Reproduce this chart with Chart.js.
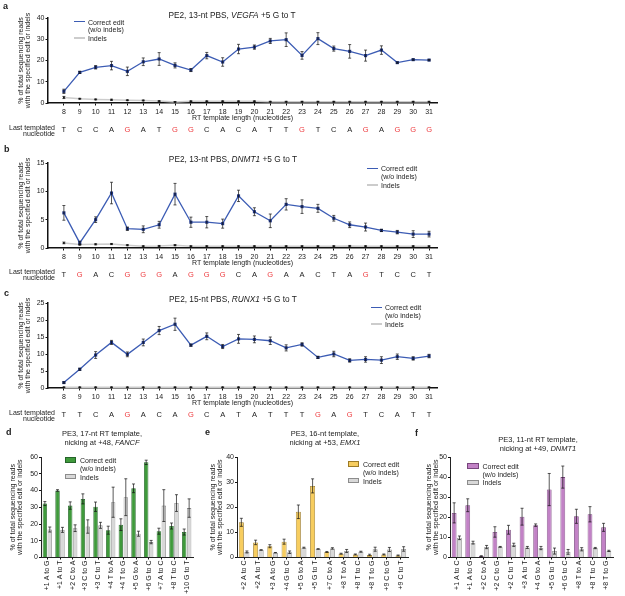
<!DOCTYPE html>
<html>
<head>
<meta charset="utf-8">
<title>RT template length and PE3 edits</title>
<script src="https://cdn.jsdelivr.net/npm/chart.js@4.4.1/dist/chart.umd.min.js"></script>
<style>
    html, body { margin: 0; padding: 0; background: #fff; }
    #fig { position: relative; width: 625px; height: 596px; overflow: hidden; font-family: 'Liberation Sans', Arial, sans-serif; color: #222; }
    #fig canvas { position: absolute; }
    .t { position: absolute; white-space: nowrap; line-height: 1; }
    .sw { position: absolute; box-sizing: border-box; }
</style>
</head>
<body>
<div id="fig">
    <canvas id="chartA" width="445" height="140" style="left:0;top:0"></canvas>
    <canvas id="chartB" width="445" height="140" style="left:0;top:145px"></canvas>
    <canvas id="chartC" width="445" height="140" style="left:0;top:285px"></canvas>
    <canvas id="chartD" width="200" height="171" style="left:0;top:425px"></canvas>
    <canvas id="chartE" width="210" height="171" style="left:205px;top:425px"></canvas>
    <canvas id="chartF" width="210" height="171" style="left:415px;top:425px"></canvas>
</div>
<script>
const FONT = "'Liberation Sans', Arial, sans-serif"

Chart.defaults.animation = false
Chart.defaults.responsive = false
Chart.defaults.font.family = FONT
Chart.defaults.color = '#222'
Chart.defaults.plugins.legend.display = false
Chart.defaults.plugins.tooltip.enabled = false

// RT template length (x axis of a, b, c)
const rtLengths = [8, 9, 10, 11, 12, 13, 14, 15, 16, 17, 18, 19, 20, 21, 22, 23, 24, 25, 26, 27, 28, 29, 30, 31]

// Last templated nucleotide per RT template length
const vegfaNucleotides = ['T', 'C', 'C', 'A', 'G', 'A', 'T', 'G', 'G', 'C', 'A', 'C', 'A', 'T', 'T', 'G', 'T', 'C', 'A', 'G', 'A', 'G', 'G', 'G']
const dnmt1Nucleotides = ['T', 'G', 'A', 'C', 'G', 'G', 'G', 'A', 'G', 'G', 'G', 'C', 'A', 'G', 'A', 'A', 'C', 'T', 'A', 'G', 'T', 'C', 'C', 'T']
const runx1Nucleotides = ['T', 'T', 'C', 'A', 'G', 'A', 'C', 'A', 'G', 'C', 'A', 'T', 'A', 'T', 'T', 'T', 'G', 'A', 'G', 'T', 'C', 'A', 'T', 'T']

// a: PE2, 13-nt PBS, VEGFA +5 G to T
const vegfaCorrect = [5.5, 14.4, 16.8, 17.6, 14.9, 19.4, 20.7, 17.7, 15.5, 22.3, 19.3, 25.4, 26.3, 29.2, 29.8, 22.4, 30.3, 25.6, 24.3, 22.3, 24.9, 19.0, 20.4, 20.2]
const vegfaCorrectSd = [1.0, 0.5, 0.8, 2.0, 2.0, 1.8, 3.0, 1.2, 0.7, 1.5, 2.0, 2.2, 1.0, 1.2, 3.2, 1.8, 2.8, 1.2, 3.2, 2.6, 2.0, 0.3, 0.3, 0.3]
const vegfaIndels = [2.6, 2.0, 1.7, 1.5, 1.3, 1.2, 0.9, 0.5, 0.8, 0.8, 0.8, 0.8, 0.8, 0.6, 0.6, 0.6, 0.6, 0.6, 0.6, 0.6, 0.6, 0.6, 0.6, 0.6]
const vegfaIndelsSd = [0.5, 0.2, 0.2, 0.3, 0.2, 0.2, 0.2, 0.2, 0.2, 0.2, 0.2, 0.2, 0.2, 0.2, 0.2, 0.2, 0.2, 0.2, 0.2, 0.2, 0.2, 0.2, 0.2, 0.2]

// b: PE2, 13-nt PBS, DNMT1 +5 G to T
const dnmt1Correct = [6.2, 0.9, 5.0, 9.7, 3.4, 3.3, 4.1, 9.5, 4.55, 4.55, 4.3, 9.2, 6.4, 4.8, 7.7, 7.3, 7.0, 5.25, 4.1, 3.7, 3.1, 2.8, 2.45, 2.45]
const dnmt1CorrectSd = [1.3, 0.3, 0.5, 1.9, 0.3, 0.6, 0.6, 1.9, 0.9, 1.0, 0.8, 1.0, 0.7, 1.2, 1.0, 1.2, 0.7, 0.5, 0.5, 0.7, 0.2, 0.3, 0.6, 0.5]
const dnmt1Indels = [0.9, 0.6, 0.65, 0.7, 0.5, 0.3, 0.35, 0.5, 0.3, 0.3, 0.3, 0.3, 0.3, 0.3, 0.3, 0.3, 0.3, 0.3, 0.35, 0.3, 0.3, 0.3, 0.3, 0.3]
const dnmt1IndelsSd = [0.15, 0.1, 0.1, 0.1, 0.1, 0.1, 0.1, 0.1, 0.1, 0.1, 0.1, 0.1, 0.1, 0.1, 0.1, 0.1, 0.1, 0.1, 0.1, 0.1, 0.1, 0.1, 0.1, 0.1]

// c: PE2, 15-nt PBS, RUNX1 +5 G to T
const runx1Correct = [1.6, 5.5, 9.7, 13.4, 9.9, 13.4, 16.9, 18.75, 12.6, 15.2, 12.2, 14.45, 14.3, 13.9, 11.8, 12.8, 9.0, 10.0, 8.1, 8.4, 8.2, 9.2, 8.7, 9.4]
const runx1CorrectSd = [0.2, 0.3, 1.0, 0.6, 0.7, 1.0, 1.2, 1.8, 0.3, 1.0, 0.6, 1.3, 1.0, 1.1, 0.9, 0.5, 0.3, 0.8, 0.5, 0.8, 1.0, 0.8, 0.5, 0.5]
const runx1Indels = [0.2, 0.2, 0.2, 0.2, 0.2, 0.2, 0.2, 0.2, 0.2, 0.2, 0.2, 0.2, 0.2, 0.2, 0.2, 0.2, 0.2, 0.2, 0.2, 0.2, 0.2, 0.2, 0.2, 0.2]
const runx1IndelsSd = [0.1, 0.1, 0.1, 0.1, 0.1, 0.1, 0.1, 0.1, 0.1, 0.1, 0.1, 0.1, 0.1, 0.1, 0.1, 0.1, 0.1, 0.1, 0.1, 0.1, 0.1, 0.1, 0.1, 0.1]

// d: PE3, 17-nt RT template, nicking at +48, FANCF
const fancfEdits = ['+1 A to G', '+1 A to T', '+2 C to A', '+3 C to G', '+3 C to T', '+4 T to A', '+4 T to G', '+5 G to A', '+6 G to C', '+7 A to C', '+8 T to C', '+10 G to T']
const fancfCorrect = [32.2, 40.0, 31.0, 35.0, 30.3, 16.3, 19.6, 41.3, 56.8, 15.7, 18.8, 15.2]
const fancfCorrectSd = [1.2, 0.5, 2.2, 3.0, 2.8, 2.4, 3.5, 2.6, 1.3, 1.8, 1.8, 1.8]
const fancfIndels = [16.7, 16.5, 17.5, 18.5, 19.2, 33.0, 36.0, 14.2, 9.2, 31.0, 32.5, 29.5]
const fancfIndelsSd = [1.5, 1.5, 2.0, 4.0, 1.8, 9.0, 11.0, 1.5, 1.0, 9.5, 5.0, 5.5]

// e: PE3, 16-nt template, nicking at +53, EMX1
const emx1Edits = ['+2 A to C', '+2 A to T', '+3 A to G', '+4 G to C', '+5 G to A', '+5 G to T', '+7 C to A', '+8 T to A', '+8 T to C', '+8 T to G', '+9 C to G', '+9 C to T']
const emx1Correct = [14.0, 6.0, 4.5, 6.3, 18.2, 28.5, 2.2, 1.5, 1.2, 1.0, 1.2, 0.8]
const emx1CorrectSd = [1.6, 0.9, 0.6, 1.0, 2.7, 2.8, 0.2, 0.2, 0.2, 0.3, 0.2, 0.2]
const emx1Indels = [2.2, 3.0, 1.9, 2.1, 3.9, 3.4, 3.6, 2.6, 2.3, 3.3, 3.2, 3.4]
const emx1IndelsSd = [0.4, 0.1, 0.1, 0.5, 0.2, 0.1, 0.3, 0.6, 0.2, 0.8, 0.8, 0.9]

// f: PE3, 11-nt RT template, nicking at +49, DNMT1
const dnmt1Pe3Edits = ['+1 A to C', '+1 A to G', '+2 C to A', '+2 C to G', '+2 C to T', '+3 A to T', '+4 G to A', '+5 G to T', '+6 G to C', '+8 T to A', '+8 T to C', '+8 T to G']
const dnmt1Pe3Correct = [22.2, 26.0, 0.7, 12.7, 13.8, 20.3, 16.1, 33.8, 40.0, 20.5, 21.5, 15.0]
const dnmt1Pe3CorrectSd = [5.0, 3.2, 0.2, 2.6, 2.2, 4.2, 0.6, 8.0, 5.5, 3.5, 3.8, 2.0]
const dnmt1Pe3Indels = [9.8, 7.4, 5.2, 5.3, 6.3, 5.0, 4.7, 3.2, 2.8, 4.1, 4.7, 3.3]
const dnmt1Pe3IndelsSd = [0.9, 0.7, 0.8, 0.2, 0.8, 0.5, 0.8, 1.5, 1.2, 0.8, 0.3, 0.3]

const Y_TITLE = ['% of total sequencing reads', 'with the specified edit or indels']
const BLUE = '#3c5cb4'
const RED = '#ee3b3f'
const GREY = { fill: '#d8d8d8', border: '#8c8c8c' }
const GREEN = { fill: '#3f9a3b', border: '#25642a' }
const YELLOW = { fill: '#f7cd5f', border: '#9c7a26' }
const PURPLE = { fill: '#c282c6', border: '#78467d' }

const fig = document.querySelector('#fig')

// Draws SD error bars from dataset.errors through the y scale.
const errorBars = {
    id: 'errorBars',
    afterDatasetsDraw(chart, args, opts) {
        const ctx = chart.ctx
        const y = chart.scales.y
        chart.data.datasets.forEach((ds, i) => {
            if (!ds.errors) return
            const meta = chart.getDatasetMeta(i)
            ctx.save()
            ctx.strokeStyle = opts.color || '#111'
            ctx.lineWidth = opts.width || 0.7
            meta.data.forEach((el, j) => {
                const v = ds.data[j]
                const value = typeof v === 'object' ? v.y : v
                const e = ds.errors[j]
                const top = y.getPixelForValue(value + e)
                const bottom = y.getPixelForValue(Math.max(0, value - e))
                const cap = opts.cap || 1.5
                ctx.beginPath()
                ctx.moveTo(el.x, top)
                ctx.lineTo(el.x, bottom)
                ctx.moveTo(el.x - cap, top)
                ctx.lineTo(el.x + cap, top)
                ctx.moveTo(el.x - cap, bottom)
                ctx.lineTo(el.x + cap, bottom)
                ctx.stroke()
            })
            ctx.restore()
        })
    },
}

const tickGrid = { display: true, drawOnChartArea: false, drawTicks: true, tickLength: 2.5, color: '#111', lineWidth: 1 }

function points(values) {
    return rtLengths.map((x, i) => ({ x, y: values[i] }))
}

// Line chart for panels a, b, c with the nucleotide row as a second x axis.
function lineChart(id, nucleotides, correct, correctSd, indels, indelsSd, yMax, yStep) {
    const setTicks = scale => { scale.ticks = rtLengths.map(v => ({ value: v })) }
    return new Chart(document.querySelector(id), {
        type: 'line',
        data: {
            datasets: [
                {
                    label: 'Correct edit (w/o indels)',
                    data: points(correct),
                    errors: correctSd,
                    borderColor: BLUE,
                    borderWidth: 1.3,
                    pointStyle: 'rect',
                    pointRadius: 2.2,
                    pointBackgroundColor: '#1f3580',
                    pointBorderWidth: 0,
                },
                {
                    label: 'Indels',
                    data: points(indels),
                    errors: indelsSd,
                    borderColor: '#cccccc',
                    borderWidth: 1.5,
                    pointRadius: 1,
                    pointBackgroundColor: '#222',
                    pointBorderWidth: 0,
                },
            ],
        },
        options: {
            layout: { padding: { top: 18, right: 8, left: 0, bottom: 0 } },
            scales: {
                x: {
                    type: 'linear',
                    weight: 0,
                    min: 7,
                    max: 31.5,
                    afterBuildTicks: setTicks,
                    afterFit: scale => { scale.height = 20 },
                    grid: tickGrid,
                    border: { color: '#111', width: 1.5 },
                    ticks: { font: { size: 7 }, padding: 2, autoSkip: false, maxRotation: 0 },
                    title: {
                        display: true,
                        text: 'RT template length (nucleotides)',
                        font: { size: 7, lineHeight: 1 },
                        padding: { top: 0, bottom: 1 },
                    },
                },
                nt: {
                    type: 'linear',
                    axis: 'x',
                    position: 'bottom',
                    weight: 1,
                    min: 7,
                    max: 31.5,
                    afterBuildTicks: setTicks,
                    afterFit: scale => { scale.height = 17 },
                    grid: { display: false, drawTicks: false },
                    border: { display: false },
                    ticks: {
                        font: { size: 7.5, lineHeight: 1 },
                        padding: 3,
                        autoSkip: false,
                        maxRotation: 0,
                        callback: v => nucleotides[v - 8],
                        color: ctx => nucleotides[ctx.tick.value - 8] === 'G' ? RED : '#222',
                    },
                },
                y: {
                    min: 0,
                    max: yMax,
                    afterFit: scale => { scale.width = 48 },
                    grid: tickGrid,
                    border: { color: '#111', width: 1.5 },
                    ticks: { stepSize: yStep, font: { size: 7 }, padding: 1 },
                    title: { display: true, text: Y_TITLE, font: { size: 7, lineHeight: 1 }, padding: { top: 18 } },
                },
            },
            plugins: { errorBars: { cap: 1.5, width: 0.7 } },
        },
        plugins: [errorBars],
    })
}

// Grouped bar chart for panels d, e, f.
function barChart(id, edits, colors, correct, correctSd, indels, indelsSd, yMax, yWidth, titlePad, rightPad) {
    return new Chart(document.querySelector(id), {
        type: 'bar',
        data: {
            labels: edits,
            datasets: [
                {
                    label: 'Correct edit (w/o indels)',
                    data: correct,
                    errors: correctSd,
                    backgroundColor: colors.fill,
                    borderColor: colors.border,
                    borderWidth: 0.8,
                },
                {
                    label: 'Indels',
                    data: indels,
                    errors: indelsSd,
                    backgroundColor: GREY.fill,
                    borderColor: GREY.border,
                    borderWidth: 0.8,
                },
            ],
        },
        options: {
            layout: { padding: { top: 32, right: rightPad, left: 0, bottom: 0 } },
            datasets: { bar: { categoryPercentage: 0.78, barPercentage: 0.9 } },
            scales: {
                x: {
                    afterFit: scale => { scale.height = 38.5 },
                    grid: { ...tickGrid, offset: false, tickLength: 2 },
                    border: { color: '#222', width: 1 },
                    ticks: { font: { size: 7 }, padding: 1, autoSkip: false, maxRotation: 90, minRotation: 90 },
                },
                y: {
                    min: 0,
                    max: yMax,
                    afterFit: scale => { scale.width = yWidth },
                    grid: { ...tickGrid, tickLength: 2 },
                    border: { color: '#222', width: 1 },
                    ticks: { stepSize: 10, font: { size: 7 }, padding: 1 },
                    title: { display: true, text: Y_TITLE, font: { size: 7, lineHeight: 1 }, padding: { top: titlePad } },
                },
            },
            plugins: { errorBars: { cap: 1.5, width: 0.7 } },
        },
        plugins: [errorBars],
    })
}

// Puts a text label on the figure; y is the vertical centre.
function text(html, x, y, size = 7, align = 'left', bold = false) {
    const el = document.createElement('div')
    el.className = 't'
    el.innerHTML = html
    el.style.left = x + 'px'
    el.style.top = y + 'px'
    el.style.fontSize = size + 'px'
    const tx = align === 'right' ? '-100%' : align === 'center' ? '-50%' : '0'
    el.style.transform = `translate(${tx}, -50%)`
    if (bold) el.style.fontWeight = 'bold'
    fig.append(el)
}

function swatch(x, y, w, h, style) {
    const el = document.createElement('div')
    el.className = 'sw'
    el.style.left = x + 'px'
    el.style.top = (y - h / 2) + 'px'
    el.style.width = w + 'px'
    el.style.height = h + 'px'
    Object.assign(el.style, style)
    fig.append(el)
}

function lineLegend(x, y) {
    swatch(x, y, 11, 1.4, { background: BLUE })
    text('Correct edit', x + 14, y)
    text('(w/o indels)', x + 14, y + 7.5)
    swatch(x, y + 16.5, 11, 1.6, { background: '#cccccc' })
    text('Indels', x + 14, y + 16.5)
}

function barLegend(x, y, colors) {
    swatch(x, y, 11.5, 5.5, { background: colors.fill, border: `0.8px solid ${colors.border}` })
    text('Correct edit', x + 15.5, y)
    text('(w/o indels)', x + 15.5, y + 8)
    swatch(x, y + 16.5, 11.5, 5.5, { background: GREY.fill, border: `0.8px solid ${GREY.border}` })
    text('Indels', x + 15.5, y + 16.5)
}

lineChart('#chartA', vegfaNucleotides, vegfaCorrect, vegfaCorrectSd, vegfaIndels, vegfaIndelsSd, 40, 10)
lineChart('#chartB', dnmt1Nucleotides, dnmt1Correct, dnmt1CorrectSd, dnmt1Indels, dnmt1IndelsSd, 15, 5)
lineChart('#chartC', runx1Nucleotides, runx1Correct, runx1CorrectSd, runx1Indels, runx1IndelsSd, 25, 5)
barChart('#chartD', fancfEdits, GREEN, fancfCorrect, fancfCorrectSd, fancfIndels, fancfIndelsSd, 60, 41, 9.5, 7)
barChart('#chartE', emx1Edits, YELLOW, emx1Correct, emx1CorrectSd, emx1Indels, emx1IndelsSd, 40, 32, 4.5, 7)
barChart('#chartF', dnmt1Pe3Edits, PURPLE, dnmt1Pe3Correct, dnmt1Pe3CorrectSd, dnmt1Pe3Indels, dnmt1Pe3IndelsSd, 50, 35, 10.5, 12)

// Panel letters
text('a', 3, 6, 9, 'left', true)
text('b', 4, 149, 9, 'left', true)
text('c', 4, 293, 9, 'left', true)
text('d', 6, 432, 9, 'left', true)
text('e', 205, 432, 9, 'left', true)
text('f', 415, 433, 9, 'left', true)

// Panel titles
text('PE2, 13-nt PBS, <i>VEGFA</i> +5 G to T', 232, 15, 8.3, 'center')
text('PE2, 13-nt PBS, <i>DNMT1</i> +5 G to T', 233, 158.5, 8.3, 'center')
text('PE2, 15-nt PBS, <i>RUNX1</i> +5 G to T', 233, 298.5, 8.3, 'center')
text('PE3, 17-nt RT template,', 102, 433.5, 7.5, 'center')
text('nicking at +48, <i>FANCF</i>', 102, 442.5, 7.5, 'center')
text('PE3, 16-nt template,', 325, 433.5, 7.5, 'center')
text('nicking at +53, <i>EMX1</i>', 325, 442.5, 7.5, 'center')
text('PE3, 11-nt RT template,', 538, 440, 7.5, 'center')
text('nicking at +49, <i>DNMT1</i>', 538, 449, 7.5, 'center')

// Row labels for the nucleotide axes
;[[126.7, 133.3], [270.7, 277.3], [411.7, 418.3]].forEach(([y1, y2]) => {
    text('Last templated', 55, y1, 7, 'right')
    text('nucleotide', 55, y2, 7, 'right')
})

// Legends
lineLegend(74, 21.7)
lineLegend(367, 168.3)
lineLegend(371, 307.3)
barLegend(64.5, 460, GREEN)
barLegend(347.5, 464, YELLOW)
barLegend(467, 465.8, PURPLE)
</script>
</body>
</html>
